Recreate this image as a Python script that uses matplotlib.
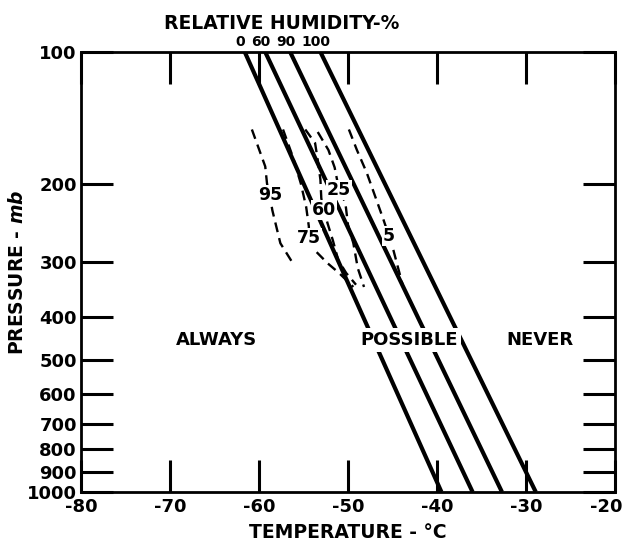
import numpy as np
import matplotlib
matplotlib.use('Agg')
from matplotlib import pyplot as plt
from matplotlib.ticker import FixedLocator, NullLocator
from matplotlib.transforms import ScaledTranslation

plt.rcParams['font.family'] = ['DejaVu Sans']
plt.rcParams['font.weight'] = 'bold'
plt.rcParams['axes.unicode_minus'] = False

# relative humidity lines: temperature at 100 mb and at 1000 mb
rh_labels = ['0', '60', '90', '100']
rh_t_top = [-61.6, -59.3, -56.5, -53.1]
rh_t_bot = [-39.5, -36.0, -32.7, -28.9]
p_ends = [100, 1000]

# dashed curves (temperature, pressure) and where the labels sit
c95_t = [-60.8, -59.3, -59.1, -58.8, -58.5, -57.6, -56.2]
c95_p = [150, 182, 199, 211, 229, 272, 302]
c75_t = [-57.3, -56.2, -55.3, -54.7, -54.4, -54.4, -53.6, -52.3, -51.0, -49.4]
c75_p = [150, 173, 199, 225, 249, 265, 284, 302, 318, 342]
c60_t = [-54.8, -53.7, -53.4, -53.1, -53.0, -52.7, -52.3, -51.7, -51.1, -50.2, -49.1]
c60_p = [150, 161, 176, 195, 215, 229, 245, 268, 297, 318, 338]
c25_t = [-53.4, -52.2, -51.5, -51.0, -50.3, -50.0, -49.4, -48.9, -48.2]
c25_p = [152, 167, 183, 206, 220, 247, 272, 310, 342]
c5_t = [-49.9, -49.0, -47.9, -46.8, -46.0, -45.4, -44.9, -44.4, -43.8]
c5_p = [150, 167, 188, 217, 241, 262, 282, 308, 342]

curve_labels = ['95', '75', '60', '25', '5']
curve_lab_t = [-58.7, -54.4, -52.7, -51.0, -45.4]
curve_lab_p = [211, 265, 229, 206, 262]

zone_labels = ['ALWAYS', 'POSSIBLE', 'NEVER']
zone_t = [-64.8, -43.1, -28.4]
zone_p = 451

x_ticks = [-80, -70, -60, -50, -40, -30, -20]
y_ticks = [100, 200, 300, 400, 500, 600, 700, 800, 900, 1000]

fig = plt.figure(figsize=(6.26, 5.41), dpi=100)
ax = fig.add_axes([81/626, 1-492/541, 534/626, 440/541])

for lab, t0, t1 in zip(rh_labels, rh_t_top, rh_t_bot):
    ax.plot([t0, t1], p_ends, color='black', lw=3.0, solid_capstyle='butt', zorder=2)
    ax.annotate(lab, (t0, 100), xytext=(-3, 2), textcoords='offset points',
                ha='center', va='bottom', fontsize=10, annotation_clip=False)

for ct, cp in [(c95_t, c95_p), (c75_t, c75_p), (c60_t, c60_p), (c25_t, c25_p), (c5_t, c5_p)]:
    ax.plot(ct, cp, color='black', lw=1.7, dashes=(4.2, 2.6), zorder=2)

for lab, t, p in zip(curve_labels, curve_lab_t, curve_lab_p):
    ax.text(t, p, lab, ha='center', va='center', fontsize=12.5, zorder=4,
            bbox=dict(boxstyle='square,pad=0.05', fc='white', ec='none'))

for lab, t in zip(zone_labels, zone_t):
    ax.text(t, zone_p, lab, ha='center', va='center', fontsize=13, zorder=4,
            bbox=dict(boxstyle='square,pad=0.15', fc='white', ec='none'))

ax.set_yscale('log')
ax.set_xlim(-80, -20)
ax.set_ylim(1000, 100)
ax.xaxis.set_major_locator(FixedLocator(x_ticks))
ax.set_xticklabels([str(v) for v in x_ticks])
ax.yaxis.set_major_locator(FixedLocator(y_ticks))
ax.yaxis.set_minor_locator(NullLocator())
ax.set_yticklabels([str(v) for v in y_ticks])
ax.tick_params(direction='in', length=23, width=2.2, labelsize=13,
               top=True, right=True, pad=3)
ax.tick_params(axis='x', pad=4)
for s in ax.spines.values():
    s.set_linewidth(2.0)

# last x label sits a little left so it stays on the page
last = ax.get_xticklabels()[-1]
last.set_transform(last.get_transform() + ScaledTranslation(-9/100, 0, fig.dpi_scale_trans))

ax.text(0.5, -0.092, 'TEMPERATURE - °C', transform=ax.transAxes,
        ha='center', va='center', fontsize=13.5)
ax.text(-0.118, 0.5, 'PRESSURE - $\\it{mb}$', transform=ax.transAxes,
        ha='center', va='center', rotation=90, fontsize=13.5)
ax.text(0.375, 1.064, 'RELATIVE HUMIDITY-%', transform=ax.transAxes,
        ha='center', va='center', fontsize=13.5)

plt.savefig('out.png', dpi=100)
